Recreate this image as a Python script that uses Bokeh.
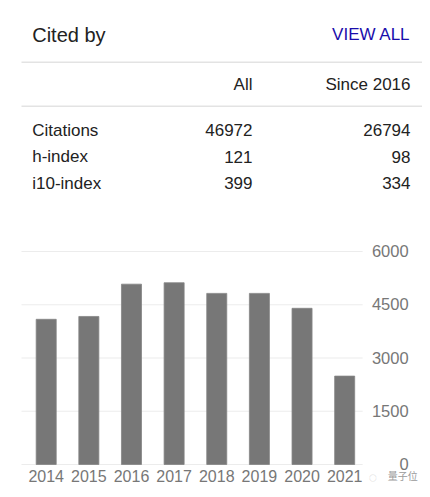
from bokeh.plotting import figure
from bokeh.models import Range1d
from bokeh.core.properties import value
from bokeh.embed import file_html
from bokeh.resources import INLINE

# ---------------- data ----------------
title = "Cited by"
link_text = "VIEW ALL"
col_headers = ["All", "Since 2016"]
row_labels = ["Citations", "h-index", "i10-index"]
all_values = [46972, 121, 399]
since_values = [26794, 98, 334]

years = [2014, 2015, 2016, 2017, 2018, 2019, 2020, 2021]
citations = [4090, 4170, 5080, 5120, 4820, 4820, 4400, 2490]
y_ticks = [0, 1500, 3000, 4500, 6000]
watermark = "量子位"

# ---------------- styles / layout ----------------
FONT = value("Liberation Sans")
DARK = "#222222"
GRAY = "#777777"
W, H = 422, 489
OFF = 0                  # canvas origin in picture pixels
TDY = -6.5               # baseline correction for svg text

px_per_year = 42.64
px_per_unit = 213 / 6000.0
first_bar_px = 45.7
zero_px = 464

x_start = years[0] - (first_bar_px - OFF) / px_per_year
x_end = x_start + W / px_per_year
y_start = -((OFF + H) - zero_px) / px_per_unit
y_end = y_start + H / px_per_unit

p = figure(width=W, height=H, x_range=Range1d(x_start, x_end),
           y_range=Range1d(y_start, y_end),
           output_backend="svg", toolbar_location=None,
           x_axis_location=None, y_axis_location=None,
           min_border=0, min_border_left=0, min_border_right=0,
           min_border_top=0, min_border_bottom=0, outline_line_color=None)
p.grid.visible = False
p.extra_x_ranges = {"px": Range1d(OFF, OFF + W)}
p.extra_y_ranges = {"py": Range1d(OFF + H, OFF)}

def ptext(x, y, text, size, color, align, font=FONT):
    p.text(x=x, y=[v + TDY for v in y], text=text, x_range_name="px", y_range_name="py",
           text_font=font, text_font_size=size, text_color=color,
           text_align=align, text_baseline="alphabetic")

# ---------------- header / table ----------------
ptext([31.7], [40.7], [title], "20px", DARK, "left")
ptext([410], [40.3], [link_text], "17px", "#1a0dab", "right")

p.segment(x0=[21, 21], x1=[422, 422], y0=[61.7, 105.7], y1=[61.7, 105.7],
          x_range_name="px", y_range_name="py", line_color="#e3e3e3", line_width=1.5)

col_x = [252, 410]
ptext(col_x, [90, 90], col_headers, "17px", DARK, "right")

row_y = [136 + i * 26.7 for i in range(len(row_labels))]
ptext([31.7] * len(row_labels), row_y, row_labels, "17px", DARK, "left")
ptext([col_x[0]] * len(all_values), row_y, [str(v) for v in all_values], "17px", DARK, "right")
ptext([col_x[1]] * len(since_values), row_y, [str(v) for v in since_values], "17px", DARK, "right")

# ---------------- bar chart ----------------
grid_start = years[0] - (first_bar_px - 21) / px_per_year
grid_end = grid_start + len(years)
p.segment(x0=[grid_start] * len(y_ticks), x1=[grid_end] * len(y_ticks),
          y0=y_ticks, y1=y_ticks, line_color="#ececec", line_width=1.2)

p.vbar(x=years, top=citations, bottom=0, width=0.47,
       fill_color=GRAY, line_color="#858585", line_width=0.8)

p.text(x=years, y=[0] * len(years), text=[str(y) for y in years], y_offset=17.7 + TDY,
       text_font=FONT, text_font_size="16px", text_color=GRAY,
       text_align="center", text_baseline="alphabetic")

p.text(x=[grid_end] * len(y_ticks), y=y_ticks, text=[str(t) for t in y_ticks],
       x_offset=46, y_offset=6 + TDY, text_font=FONT, text_font_size="16.5px",
       text_color=GRAY, text_align="right", text_baseline="alphabetic")

p.text(x=[years[-1]], y=[0], text=[watermark], x_offset=43, y_offset=17 + TDY,
       text_font=value("Noto Sans CJK SC"), text_font_size="10px",
       text_color="#9a9a9a", text_align="left", text_baseline="alphabetic")
p.text(x=[years[-1]], y=[0], text=["◌"], x_offset=28, y_offset=19 + TDY,
       text_font=FONT, text_font_size="14px",
       text_color="#c8c8c8", text_align="center", text_baseline="alphabetic")

open("out.html", "w").write(file_html(p, INLINE))
